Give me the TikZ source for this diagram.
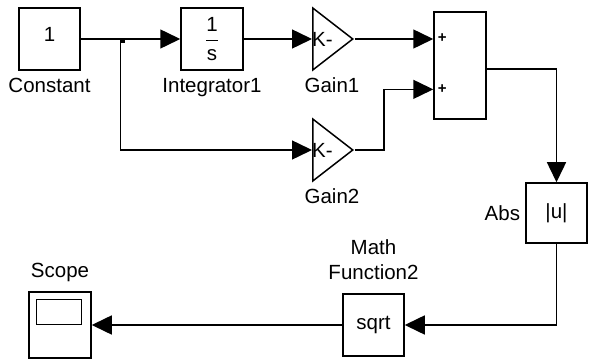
\documentclass[tikz,border=0pt]{standalone}
\usepackage{fontspec}
\setmainfont{Liberation Sans}
\usepackage{amsmath}
\usetikzlibrary{shapes.geometric, arrows.meta, positioning, calc}

\begin{document}
\begin{tikzpicture}[x=1pt, y=-1pt,
  font=\fontsize{20.5}{25}\selectfont,
  blk/.style={draw, line width=1.5pt, minimum width=61pt, minimum height=62pt, inner sep=0pt},
  gain/.style={draw, line width=1.5pt, isosceles triangle, isosceles triangle stretches,
    minimum width=62pt, minimum height=40pt, inner sep=0pt, anchor=lower side},
  sig/.style={line width=1.5pt, -{Triangle[length=20pt,width=19pt]}},
  lbl/.style={inner sep=0pt},
  plus/.style={inner sep=0pt, font=\bfseries\fontsize{15}{15}\selectfont}]
\useasboundingbox (0,0) rectangle (590,361);

% blocks
\node[blk] (const) at (49.5,39) {};
\node[lbl] (constval) at ([yshift=5pt]const.center) {1};
\node[blk, minimum width=62pt] (integ) at (212,39) {$\dfrac{\text{1}}{\text{s}}$};
\node[gain] (gain1) at (312,39) {};
\node[gain] (gain2) at (312,150) {};
\node[lbl, anchor=west] (gain1val) at (gain1.lower side) {K-};
\node[lbl, anchor=west] (gain2val) at (gain2.lower side) {K-};
\node[blk, minimum width=52pt, minimum height=107pt] (sum) at (460,65.5) {};
\node[blk, minimum height=60pt] (abs) at (556.5,213) {|u|};
\node[blk] (sqrt) at (373.5,325) {sqrt};
\node[blk, minimum width=62pt, minimum height=66pt] (scope) at (60,325) {};
\draw[line width=1.5pt] ($(scope.north west)+(8,8)$) rectangle ($(scope.north west)+(53,33)$);

% block names
\node[lbl, below=7pt of const] (constlbl) {Constant};
\node[lbl, below=7pt of integ] (integlbl) {Integrator1};
\node[lbl, anchor=north] (gain1lbl) at ($(gain1.lower side)+(20,38)$) {Gain1};
\node[lbl, anchor=north] (gain2lbl) at ($(gain2.lower side)+(20,38)$) {Gain2};
\node[lbl, left=5pt of abs] (abslbl) {Abs};
\node[lbl, align=center, above=13pt of sqrt] (sqrtlbl) {Math\\Function2};
\node[lbl, above=9pt of scope] (scopelbl) {Scope};

% sum ports
\coordinate (sumin1) at ($(sum.north west)!0.25!(sum.south west)$);
\coordinate (sumin2) at ($(sum.north west)!0.72!(sum.south west)$);
\coordinate (sumout) at ($(sum.north east)!0.53!(sum.south east)$);
\node[plus] (plus1) at ([xshift=9pt]sumin1) {+};
\node[plus] (plus2) at ([xshift=9pt]sumin2) {+};

% signals
\coordinate (branch) at ($(const.east)!0.4!(integ.west)$);
\draw[sig] (const.east) -- (integ.west);
\fill (branch) rectangle ++(4,4);
\draw[sig] (branch) |- (gain2.lower side);
\draw[sig] (integ.east) -- (gain1.lower side);
\draw[sig] (gain1.apex) -- (gain1.apex -| sum.west);
\coordinate (bend) at ($(gain2.apex)!0.37!(gain2.apex -| sum.west)$);
\draw[sig] (gain2.apex) -- (bend) |- (sumin2);
\draw[sig] (sumout) -| (abs.north);
\draw[sig] (abs.south) |- (sqrt.east);
\draw[sig] (sqrt.west) -- (scope.east);
\end{tikzpicture}
\end{document}
